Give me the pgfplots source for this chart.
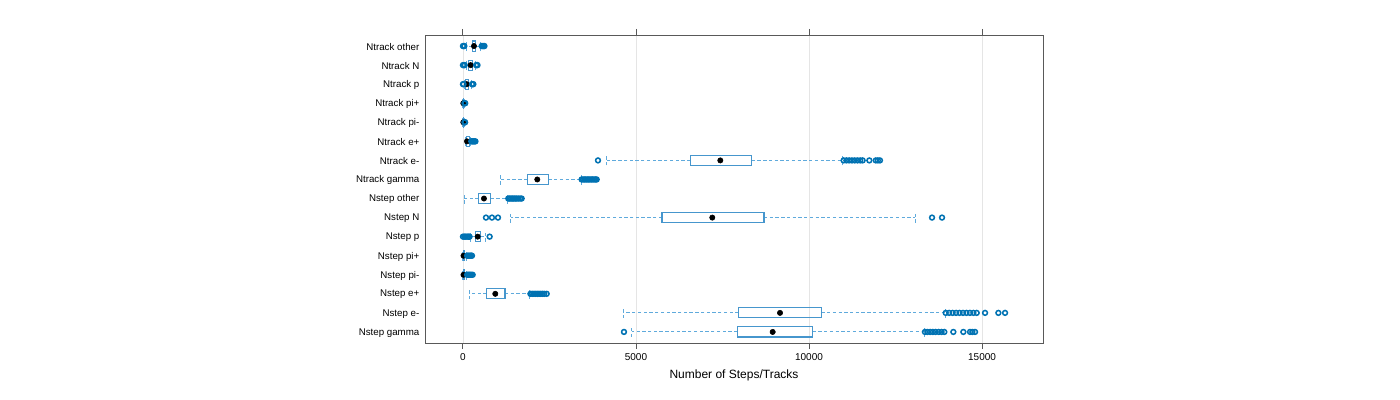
\documentclass[border=0pt]{standalone}
\usepackage{fontspec}
\setmainfont{Liberation Sans}
\usepackage{pgfplots}
\usepgfplotslibrary{statistics}
\pgfplotsset{compat=1.18}

\definecolor{boxc}{RGB}{70,150,205}
\definecolor{whc}{RGB}{95,170,220}
\definecolor{outc}{RGB}{0,114,178}

\pgfplotsset{
  bw/.style={
    boxplot/draw direction=x,
    boxplot/box extend=0.53,
    boxplot/whisker extend=0.53,
    boxplot/every box/.style={draw=boxc, line width=0.8pt, solid},
    boxplot/every whisker/.style={draw=whc, line width=0.7pt, dash pattern=on 2.5pt off 1.8pt},
    boxplot/draw/median/.code={\fill[black] (boxplot box cs:\pgfplotsboxplotvalue{median},0.5) circle[radius=2pt];},
    mark=o, mark size=1.8pt,
    mark options={draw=outc, line width=1.15pt, solid},
  }
}

\begin{document}
\begin{tikzpicture}
\useasboundingbox (0,0) rectangle (1050pt,300pt);
\begin{axis}[
  at={(318.75pt,42.75pt)}, anchor=south west,
  scale only axis, width=463.5pt, height=231pt,
  xmin=-1097, xmax=16762, ymin=0.42, ymax=16.58,
  axis line style={black!65, line width=0.7pt},
  xtick={0,5000,10000,15000},
  xtick pos=both, xticklabel pos=lower,
  tick align=outside, major tick length=4.5pt,
  x tick style={black!65, line width=0.7pt},
  xmajorgrids, grid style={black!10, line width=0.6pt},
  ytick={1,...,16},
  yticklabels={Nstep gamma, Nstep e-, Nstep e+, Nstep pi-, Nstep pi+, Nstep p, Nstep N, Nstep other,
               Ntrack gamma, Ntrack e-, Ntrack e+, Ntrack pi-, Ntrack pi+, Ntrack p, Ntrack N, Ntrack other},
  y tick style={draw=none},
  ticklabel style={font=\fontsize{7.5}{9}\selectfont},
  yticklabel style={xshift=3.8pt, yshift=-0.6pt, font=\fontsize{7.3}{9}\selectfont},
  /pgf/number format/assume math mode=true,
  scaled x ticks=false,
  xticklabel style={/pgf/number format/.cd, set thousands separator={}},
  xlabel={Number of Steps/Tracks},
  xlabel style={font=\fontsize{9}{11}\selectfont},
]
% Ntrack other
\addplot[bw, boxplot prepared={draw position=16, lower whisker=90, lower quartile=280, median=318, upper quartile=375, upper whisker=500}]
  coordinates {(0,0) (0,20) (0,40) (0,540) (0,570) (0,600) (0,620)};
% Ntrack N
\addplot[bw, boxplot prepared={draw position=15, lower whisker=90, lower quartile=160, median=222, upper quartile=280, upper whisker=360}]
  coordinates {(0,0) (0,25) (0,50) (0,380) (0,400) (0,420)};
% Ntrack p
\addplot[bw, boxplot prepared={draw position=14, lower whisker=30, lower quartile=80, median=110, upper quartile=170, upper whisker=240}]
  coordinates {(0,0) (0,15) (0,260) (0,280) (0,300)};
% Ntrack pi+
\addplot[bw, boxplot prepared={draw position=13, lower whisker=0, lower quartile=5, median=10, upper quartile=20, upper whisker=40}]
  coordinates {(0,45) (0,55) (0,65)};
% Ntrack pi-
\addplot[bw, boxplot prepared={draw position=12, lower whisker=0, lower quartile=5, median=10, upper quartile=20, upper whisker=40}]
  coordinates {(0,45) (0,55) (0,60)};
% Ntrack e+
\addplot[bw, boxplot prepared={draw position=11, lower whisker=80, lower quartile=110, median=116, upper quartile=193, upper whisker=220}]
  coordinates {(0,240) (0,270) (0,300) (0,330) (0,360)};
% Ntrack e-
\addplot[bw, boxplot prepared={draw position=10, lower whisker=4153, lower quartile=6570, median=7437, upper quartile=8344, upper whisker=10974}]
  coordinates {(0,3902) (0,11000) (0,11080) (0,11160) (0,11240) (0,11320) (0,11400) (0,11480) (0,11550) (0,11743) (0,11930) (0,11990) (0,12050)};
% Ntrack gamma
\addplot[bw, boxplot prepared={draw position=9, lower whisker=1078, lower quartile=1859, median=2148, upper quartile=2466, upper whisker=3410}]
  coordinates {(0,3430) (0,3470) (0,3510) (0,3550) (0,3590) (0,3630) (0,3670) (0,3710) (0,3750) (0,3790) (0,3830) (0,3864)};
% Nstep other
\addplot[bw, boxplot prepared={draw position=8, lower whisker=38, lower quartile=453, median=607, upper quartile=800, upper whisker=1292}]
  coordinates {(0,1310) (0,1350) (0,1390) (0,1430) (0,1470) (0,1510) (0,1550) (0,1600) (0,1650) (0,1696)};
% Nstep N
\addplot[bw, boxplot prepared={draw position=7, lower whisker=1378, lower quartile=5751, median=7205, upper quartile=8699, upper whisker=13064}]
  coordinates {(0,665) (0,838) (0,1012) (0,13555) (0,13844)};
% Nstep p
\addplot[bw, boxplot prepared={draw position=6, lower whisker=220, lower quartile=367, median=425, upper quartile=500, upper whisker=650}]
  coordinates {(0,0) (0,40) (0,80) (0,120) (0,160) (0,190) (0,771)};
% Nstep pi+
\addplot[bw, boxplot prepared={draw position=5, lower whisker=0, lower quartile=5, median=15, upper quartile=55, upper whisker=100}]
  coordinates {(0,120) (0,150) (0,180) (0,210) (0,240) (0,260)};
% Nstep pi-
\addplot[bw, boxplot prepared={draw position=4, lower whisker=0, lower quartile=5, median=15, upper quartile=55, upper whisker=100}]
  coordinates {(0,120) (0,150) (0,180) (0,210) (0,240) (0,280)};
% Nstep e+
\addplot[bw, boxplot prepared={draw position=3, lower whisker=183, lower quartile=684, median=934, upper quartile=1214, upper whisker=1936}]
  coordinates {(0,1950) (0,2000) (0,2050) (0,2100) (0,2150) (0,2200) (0,2250) (0,2300) (0,2350) (0,2419)};
% Nstep e-
\addplot[bw, boxplot prepared={draw position=2, lower whisker=4624, lower quartile=7967, median=9162, upper quartile=10356, upper whisker=13931}]
  coordinates {(0,13950) (0,14050) (0,14150) (0,14250) (0,14350) (0,14450) (0,14550) (0,14650) (0,14750) (0,14846) (0,15087) (0,15472) (0,15665)};
% Nstep gamma
\addplot[bw, boxplot prepared={draw position=1, lower whisker=4875, lower quartile=7928, median=8950, upper quartile=10106, upper whisker=13332}]
  coordinates {(0,4653) (0,13350) (0,13420) (0,13500) (0,13580) (0,13660) (0,13750) (0,13830) (0,13910) (0,14171) (0,14460) (0,14653) (0,14720) (0,14798)};
\end{axis}
\end{tikzpicture}
\end{document}
